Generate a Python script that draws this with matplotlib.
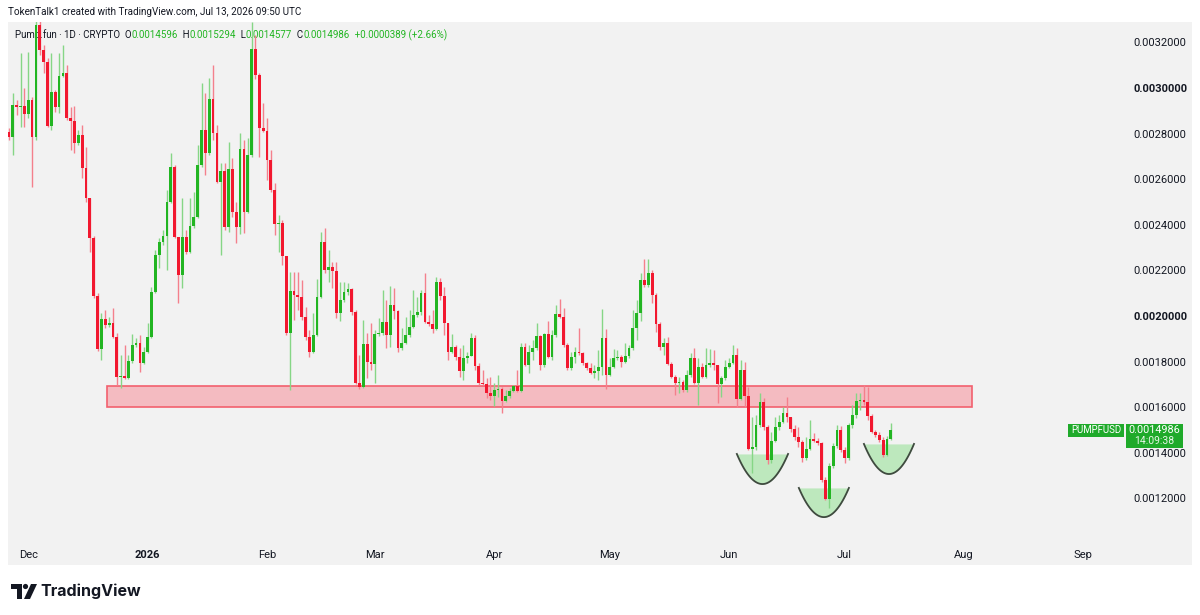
import numpy as np
import pandas as pd
import matplotlib
matplotlib.use("Agg")
import matplotlib.pyplot as plt
from matplotlib.patches import Rectangle, Polygon, Circle

FONT = ['Liberation Sans Narrow', 'Roboto', 'DejaVu Sans']
plt.rcParams['font.family'] = FONT

# daily candles PUMP/USD, prices in units of 1e-6 USD
start = pd.Timestamp("2025-11-26")
first_open = 2807
closes = [
    2785, 2925, 2917, 2921, 2886, 2947, 2785, 3276, 3167, 3114,
    2833, 2983, 2917, 3053, 3066, 2868, 2855, 2759, 2794, 2649,
    2518, 2342, 2088, 1855, 1987, 1961, 1969, 1908, 1733, 1737,
    1728, 1803, 1873, 1882, 1794, 1842, 1908, 2105, 2268, 2325,
    2351, 2500, 2654, 2347, 2180, 2347, 2281, 2395, 2434, 2662,
    2816, 2715, 2952, 2803, 2588, 2636, 2390, 2645, 2456, 2390,
    2733, 2456, 2706, 3171, 3057, 2825, 2811, 2684, 2553, 2404,
    2408, 2263, 1925, 2110, 2092, 2083, 1996, 1908, 1842, 1917,
    2083, 2325, 2202, 2215, 2197, 2013, 2070, 2105, 2118, 2018,
    1706, 1689, 1877, 1798, 1790, 1921, 1925, 1974, 1917, 2048,
    2022, 1860, 1882, 1917, 1952, 2004, 2018, 2101, 1974, 1965,
    1943, 2149, 2088, 1969, 1842, 1864, 1820, 1759, 1816, 1825,
    1904, 1781, 1706, 1702, 1662, 1649, 1675, 1680, 1627, 1649,
    1671, 1693, 1671, 1864, 1785, 1842, 1860, 1912, 1785, 1921,
    1820, 1917, 2009, 1996, 1873, 1772, 1820, 1842, 1838, 1794,
    1772, 1750, 1759, 1776, 1904, 1741, 1776, 1816, 1820, 1798,
    1825, 1860, 1947, 2013, 2158, 2136, 2189, 2092, 1965, 1864,
    1882, 1790, 1733, 1706, 1711, 1675, 1741, 1816, 1706, 1776,
    1733, 1785, 1794, 1785, 1702, 1728, 1776, 1794, 1829, 1636,
    1763, 1649, 1417, 1425, 1522, 1623, 1513, 1368, 1452, 1513,
    1535, 1575, 1557, 1504, 1469, 1447, 1377, 1417, 1461, 1452,
    1443, 1281, 1197, 1342, 1430, 1500, 1412, 1377, 1522, 1566,
    1627, 1632, 1623, 1561, 1491, 1478, 1456, 1390, 1459.6, 1498.6,
]
highs = [
    2825, 2978, 2947, 3154, 3000, 3158, 2961, 3307, 3298, 3189,
    3132, 3154, 2991, 3154, 3189, 3101, 2917, 2921, 2816, 2838,
    2741, 2518, 2351, 2101, 2013, 2026, 1996, 2035, 1925, 1829,
    1873, 1829, 1921, 1904, 1917, 1864, 1969, 2127, 2289, 2342,
    2377, 2553, 2715, 2662, 2347, 2518, 2377, 2518, 2544, 2750,
    3022, 2978, 3044, 3101, 2838, 2671, 2671, 2763, 2693, 2500,
    2803, 2772, 2781, 3290, 3232, 3066, 2934, 2868, 2728, 2583,
    2443, 2421, 2263, 2193, 2193, 2193, 2158, 2040, 1939, 2013,
    2162, 2368, 2386, 2289, 2237, 2237, 2149, 2149, 2145, 2123,
    2026, 1829, 1983, 1925, 1969, 1939, 1991, 2114, 2070, 2132,
    2123, 2026, 1947, 1996, 2026, 2114, 2083, 2114, 2189, 2004,
    2026, 2171, 2167, 2127, 1969, 1921, 1873, 1860, 1873, 1842,
    1925, 1917, 1794, 1763, 1728, 1733, 1706, 1741, 1689, 1675,
    1684, 1697, 1763, 1882, 1882, 1873, 1895, 1969, 1917, 1925,
    1978, 1939, 2048, 2075, 2035, 1882, 1842, 1864, 1947, 1842,
    1798, 1794, 1785, 1851, 2031, 1943, 1816, 1855, 1851, 1829,
    1882, 1873, 2026, 2070, 2189, 2250, 2250, 2202, 2101, 1974,
    1904, 1908, 1798, 1741, 1733, 1719, 1763, 1838, 1860, 1816,
    1794, 1860, 1855, 1851, 1785, 1737, 1807, 1816, 1873, 1860,
    1807, 1798, 1689, 1557, 1566, 1662, 1640, 1522, 1491, 1557,
    1566, 1601, 1645, 1557, 1522, 1513, 1456, 1469, 1544, 1487,
    1465, 1447, 1294, 1355, 1443, 1522, 1518, 1425, 1531, 1610,
    1662, 1662, 1697, 1689, 1570, 1500, 1491, 1469, 1474, 1529.4,
]
lows = [
    2772, 2706, 2882, 2829, 2829, 2868, 2566, 2772, 3145, 3066,
    2829, 2816, 2895, 2890, 3048, 2860, 2728, 2715, 2750, 2605,
    2500, 2281, 2079, 1847, 1807, 1947, 1952, 1904, 1697, 1684,
    1724, 1724, 1794, 1864, 1754, 1790, 1838, 1904, 2101, 2211,
    2311, 2202, 2496, 2342, 2057, 2123, 2272, 2276, 2386, 2430,
    2654, 2618, 2706, 2772, 2583, 2268, 2377, 2368, 2434, 2320,
    2360, 2364, 2452, 2697, 3040, 2697, 2807, 2597, 2544, 2355,
    2281, 2224, 1917, 1675, 1983, 2026, 1983, 1895, 1820, 1838,
    1912, 2079, 2189, 2149, 2123, 1991, 1978, 2061, 2092, 2004,
    1702, 1680, 1684, 1728, 1763, 1706, 1912, 1917, 1860, 1864,
    1987, 1842, 1851, 1877, 1908, 1947, 1996, 2004, 1969, 1956,
    1925, 1939, 2070, 1917, 1807, 1838, 1807, 1733, 1719, 1794,
    1825, 1763, 1697, 1697, 1640, 1632, 1605, 1645, 1575, 1623,
    1640, 1667, 1667, 1667, 1781, 1750, 1807, 1851, 1763, 1776,
    1816, 1807, 1908, 1991, 1864, 1763, 1763, 1794, 1829, 1785,
    1763, 1746, 1728, 1719, 1741, 1680, 1737, 1772, 1807, 1776,
    1794, 1816, 1851, 1895, 1978, 2127, 2127, 2057, 1930, 1851,
    1829, 1785, 1728, 1654, 1662, 1667, 1667, 1733, 1702, 1610,
    1728, 1728, 1776, 1763, 1618, 1645, 1719, 1772, 1790, 1601,
    1632, 1601, 1412, 1311, 1412, 1513, 1500, 1351, 1355, 1447,
    1500, 1531, 1535, 1491, 1456, 1425, 1360, 1368, 1412, 1447,
    1434, 1272, 1193, 1158, 1333, 1421, 1404, 1355, 1368, 1509,
    1553, 1588, 1610, 1544, 1487, 1469, 1447, 1382, 1386, 1457.7,
]
legend_values = ["0.0014596", "0.0015294", "0.0014577", "0.0014986"]
change_text = "+0.0000389 (+2.66%)"

# support zone and the three rounded bottoms (day offsets from start, prices)
zone_days = (25.4, 250.0)
zone_prices = (0.001601, 0.001693)
bowls = [
    (189.0, 202.3, 0.001395, 0.001263),
    (205.1, 218.1, 0.001246, 0.001118),
    (222.0, 235.0, 0.001439, 0.001307),
]

month_names = ['Dec', '2026', 'Feb', 'Mar', 'Apr', 'May', 'Jun', 'Jul', 'Aug', 'Sep']
month_dates = ['2025-12-01', '2026-01-01', '2026-02-01', '2026-03-01', '2026-04-01',
               '2026-05-01', '2026-06-01', '2026-07-01', '2026-08-01', '2026-09-01']
price_ticks = [0.0012, 0.0014, 0.0016, 0.0018, 0.0020, 0.0022, 0.0024,
               0.0026, 0.0028, 0.0030, 0.0032]

c = np.array(closes) * 1e-6
h = np.array(highs) * 1e-6
l = np.array(lows) * 1e-6
o = np.array([first_open] + closes[:-1]) * 1e-6
x = np.arange(len(c))

UP, DN = '#22B522', '#F2182F'
UPW, DNW = '#86D686', '#F4808C'
BG = '#F2F2F2'
TXT = '#131722'

fig = plt.figure(figsize=(12, 6.15), dpi=100)
W, H = 1200, 615
bg = fig.add_axes([0, 0, 1, 1], zorder=0)
bg.set_xlim(0, W)
bg.set_ylim(H, 0)
bg.axis('off')
bg.add_patch(Rectangle((8, 22), 1184, 543, facecolor=BG, lw=0))

L, R, T, B = 8, 1110, 22, 540
ax = fig.add_axes([L / W, (H - B) / H, (R - L) / W, (B - T) / H], zorder=1)
ax.set_facecolor('none')
for s in ax.spines.values():
    s.set_visible(False)
ax.set_xlim(-0.26, 285.9)
ax.set_ylim(0.0010176, 0.0032895)

up = c >= o
ax.vlines(x, l, h, colors=np.where(up, UPW, DNW), linewidth=1.0, zorder=2)
body = np.maximum(np.abs(c - o), 4e-6)
ax.bar(x, body, bottom=np.minimum(o, c), width=0.72,
       color=np.where(up, UP, DN), linewidth=0, zorder=3)

ax.add_patch(Rectangle((zone_days[0], zone_prices[0]), zone_days[1] - zone_days[0],
                       zone_prices[1] - zone_prices[0], facecolor='#F4BBC1',
                       edgecolor='#F2606E', lw=1.2, zorder=1))

for x0, x1, top, bot in bowls:
    t = np.linspace(-1, 1, 60)
    bx = (x0 + x1) / 2 + (x1 - x0) / 2 * t
    by = top - (top - bot) * (1 - t ** 2)
    ax.fill_between(bx, by, top, color='#BDE8BD', lw=0, zorder=1.5)
    ax.plot(bx, by, color='#3F4A3F', lw=1.3, zorder=1.6)

mx = [(pd.Timestamp(d) - start).days for d in month_dates]
ax.set_xticks(mx)
ax.set_xticklabels(month_names)
ax.tick_params(axis='x', length=0, pad=7, labelsize=8, colors=TXT)
for lab in ax.get_xticklabels():
    if lab.get_text() == '2026':
        lab.set_fontweight('bold')

ax.yaxis.tick_right()
ax.set_yticks(price_ticks)
ax.set_yticklabels([f"{v:.7f}" for v in price_ticks])
ax.tick_params(axis='y', length=0, pad=17, labelsize=8, colors=TXT)
for v, lab in zip(price_ticks, ax.get_yticklabels()):
    if abs(v - 0.002) < 1e-9 or abs(v - 0.003) < 1e-9:
        lab.set_fontweight('bold')

r = fig.canvas.get_renderer()


def fit(txt, width):
    bb = txt.get_window_extent(renderer=r)
    txt.set_fontsize(txt.get_fontsize() * width / bb.width)


hdr = bg.text(8, 12, "TokenTalk1 created with TradingView.com, Jul 13, 2026 09:50 UTC",
              fontsize=9, color=TXT, va='center', ha='left')
fit(hdr, 295)

pieces = [("Pump.fun · 1D · CRYPTO  O", TXT), (legend_values[0], UP),
          ("  H", TXT), (legend_values[1], UP), ("  L", TXT), (legend_values[2], UP),
          ("  C", TXT), (legend_values[3], UP), ("  " + change_text, UP)]
size = 9
tot = 0
for s, col in pieces:
    tt = bg.text(0, 0, s, fontsize=size)
    tot += tt.get_window_extent(renderer=r).width
    tt.remove()
size = size * 433 / tot
cx = 15
for s, col in pieces:
    tt = bg.text(cx, 35, s, fontsize=size, color=col, va='center', ha='left')
    cx += tt.get_window_extent(renderer=r).width

# last price labels on the scale
last = len(c) - 1
ov = fig.add_axes([0, 0, 1, 1], zorder=4)
ov.set_xlim(0, W)
ov.set_ylim(H, 0)
ov.axis('off')
disp = ax.transData.transform((0, c[last]))
yc = ov.transData.inverted().transform(disp)[1]
GB = '#1FAA2A'
ov.add_patch(Rectangle((1068, yc - 6.5), 56, 13, facecolor=GB, lw=0))
tag = ov.text(1096, yc, "PUMPFUSD", color='white', fontsize=8, ha='center', va='center')
fit(tag, 50)
ov.add_patch(Rectangle((1126, yc - 6.5), 57, 24, facecolor=GB, lw=0))
ov.text(1154, yc, legend_values[3], color='white', fontsize=7.8, ha='center', va='center')
ov.text(1154, yc + 11, "14:09:38", color='#E6F6E6', fontsize=7.5, ha='center', va='center')

# TradingView logo
ov.add_patch(Polygon([(11, 584), (22, 584), (22, 599), (17, 599), (17, 589), (11, 589)],
                     closed=True, facecolor=TXT, lw=0))
ov.add_patch(Circle((25.5, 586.5), 2.6, facecolor=TXT, lw=0))
ov.add_patch(Polygon([(31, 584), (37, 584), (30, 599), (24, 599)],
                     closed=True, facecolor=TXT, lw=0))
logo = ov.text(40, 591.5, "TradingView", fontsize=14, fontweight='bold',
               color=TXT, va='center', ha='left', family=['Inter', 'DejaVu Sans'])
fit(logo, 101)

fig.savefig("out.png", dpi=100, facecolor='white')
